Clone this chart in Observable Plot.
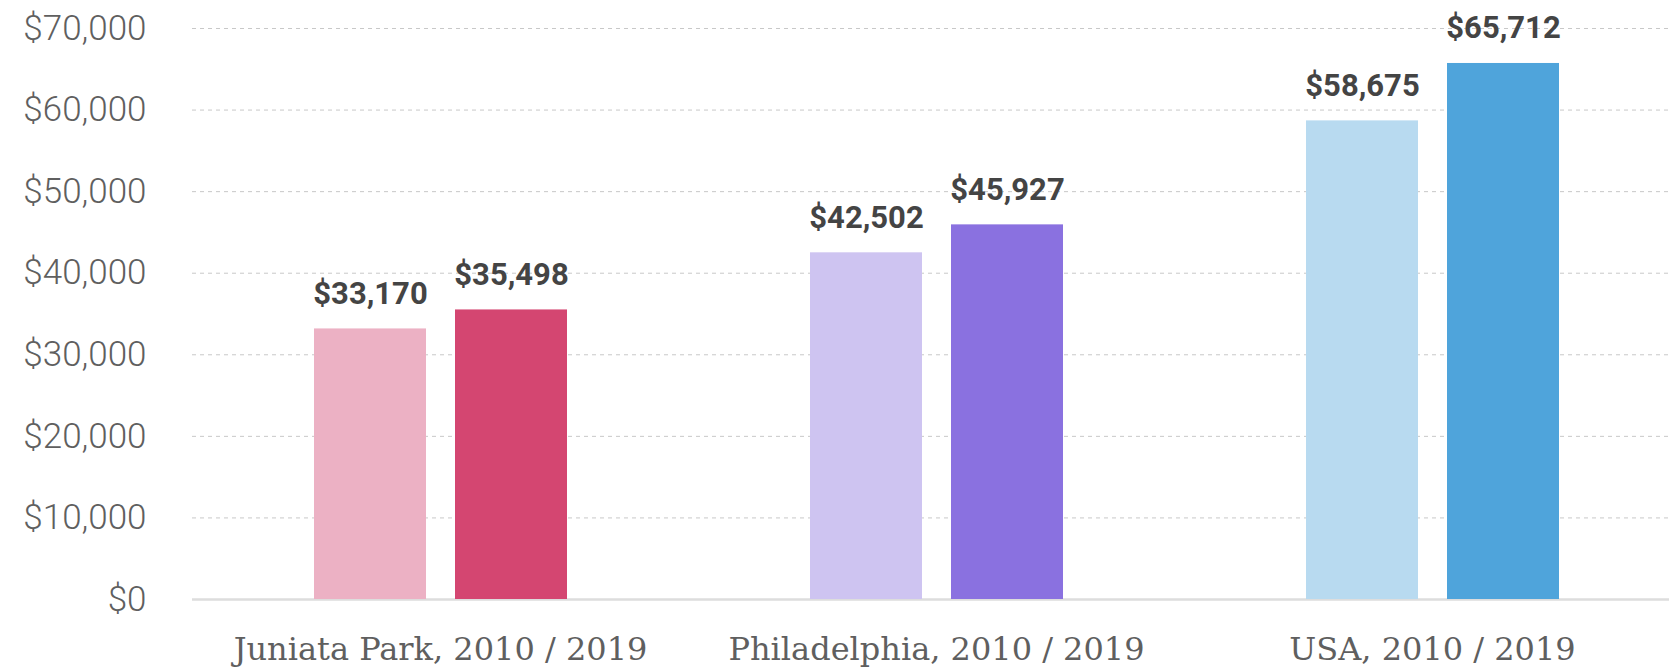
<!DOCTYPE html>
<html>
<head>
<meta charset="utf-8">
<script src="https://cdn.jsdelivr.net/npm/d3@7"></script>
<script src="https://cdn.jsdelivr.net/npm/@observablehq/plot@0.6"></script>
<style>
  html, body { margin: 0; padding: 0; background: #fff; }
  #chart svg { display: block; }
</style>
</head>
<body>
<div id="chart"></div>
<script>
const groups = ["Juniata Park, 2010 / 2019", "Philadelphia, 2010 / 2019", "USA, 2010 / 2019"];
const years = ["2010", "2019"];
const income2010 = [33170, 42502, 58675];
const income2019 = [35498, 45927, 65712];
const colors2010 = ["#ecb1c4", "#cec4f1", "#b8daf0"];
const colors2019 = ["#d44671", "#8a71e0", "#4fa4db"];
const yTicks = [0, 10000, 20000, 30000, 40000, 50000, 60000, 70000];

const rows = [];
groups.forEach((g, i) => {
  rows.push({group: g, year: years[0], value: income2010[i], color: colors2010[i]});
  rows.push({group: g, year: years[1], value: income2019[i], color: colors2019[i]});
});

const fmt = d3.format("$,");

const chart = Plot.plot({
  width: 1669,
  height: 671,
  marginLeft: 192,
  marginRight: 0,
  marginTop: 28,
  marginBottom: 72,
  fx: {domain: groups, range: [192, 1680], padding: 0, label: null},
  x: {domain: years, paddingInner: 0.206, paddingOuter: 0.86, axis: null},
  y: {domain: [0, 70000], label: null},
  marks: [
    Plot.gridY(yTicks.filter(d => d > 0), {stroke: "#c8c8c8", strokeOpacity: 1, strokeDasharray: "4,4"}),
    Plot.ruleY([0], {stroke: "#dddddd", strokeWidth: 2.5}),
    Plot.barY(rows, {fx: "group", x: "year", y: "value", fill: "color"}),
    Plot.text(rows, {
      fx: "group", x: "year", y: "value", text: d => fmt(d.value),
      dy: -25, lineAnchor: "bottom", fontSize: 31, fontWeight: "bold",
      fontFamily: "Roboto", fill: "#444"
    }),
    Plot.axisY(yTicks, {
      tickSize: 0, tickPadding: 46, tickFormat: fmt, fontSize: 35,
      fontFamily: "Roboto", fontWeight: 300, fill: "#5f5f5f", label: null
    }),
    Plot.axisFx({
      anchor: "bottom",
      tickSize: 0, tickPadding: 38, fontSize: 32,
      fontFamily: "DejaVu Serif", fill: "#5f5f5f", label: null
    })
  ]
});

document.getElementById("chart").appendChild(chart);
</script>
</body>
</html>
